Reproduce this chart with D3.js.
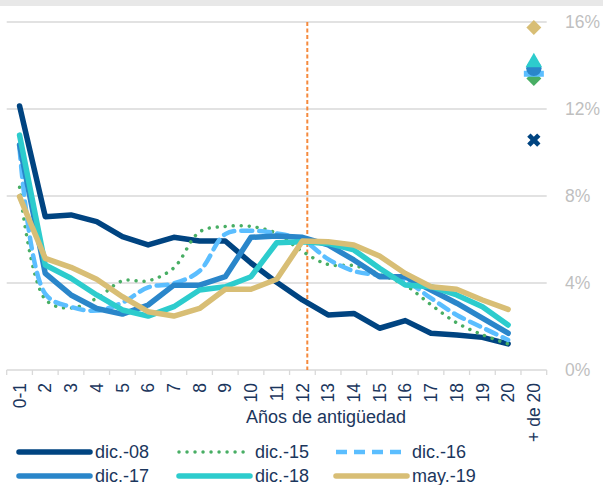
<!DOCTYPE html>
<html>
<head>
<meta charset="utf-8">
<script src="https://cdn.jsdelivr.net/npm/d3@7"></script>
<style>
  body { margin: 0; background: #fff; }
  svg text { font-family: "Liberation Sans", Arial, sans-serif; }
</style>
</head>
<body>
<div id="chart"></div>
<script>
// categories on the x axis (years of seniority)
var categories = ["0-1", "2", "3", "4", "5", "6", "7", "8", "9", "10", "11", "12",
  "13", "14", "15", "16", "17", "18", "19", "20", "+ de 20"];

// % values, categories 0-1 .. 20
var dic08 = [12.14, 7.05, 7.13, 6.82, 6.13, 5.75, 6.10, 5.93, 5.93, 4.92, 4.03, 3.22, 2.53, 2.60, 1.92, 2.27, 1.69, 1.61, 1.50, 1.20];
var dic15 = [8.40, 3.25, 2.85, 3.30, 4.10, 4.10, 4.70, 6.35, 6.60, 6.60, 6.28, 5.45, 4.85, 4.80, 4.40, 3.90, 3.00, 2.17, 1.62, 1.20];
var dic16 = [10.20, 3.50, 2.90, 2.73, 3.10, 3.80, 3.98, 4.55, 6.25, 6.40, 6.28, 5.98, 5.10, 4.55, 4.35, 4.10, 3.30, 2.53, 1.95, 1.38];
var dic17 = [10.35, 4.44, 3.45, 2.83, 2.57, 2.99, 3.90, 3.90, 4.29, 6.10, 6.16, 6.10, 5.75, 5.06, 4.29, 4.29, 3.68, 3.07, 2.38, 1.69];
var dic18 = [10.80, 4.83, 4.22, 3.45, 2.76, 2.48, 2.91, 3.68, 3.83, 4.29, 5.85, 5.90, 5.82, 5.52, 4.68, 3.91, 3.83, 3.45, 2.91, 2.07];
var may19 = [7.97, 5.13, 4.72, 4.17, 3.37, 2.68, 2.48, 2.83, 3.71, 3.71, 4.17, 5.93, 5.90, 5.75, 5.24, 4.44, 3.83, 3.71, 3.22, 2.79];

// "+ de 20" values, one per series (same order as names)
var seriesNames = ["dic.-08", "dic.-15", "dic.-16", "dic.-17", "dic.-18", "may.-19"];
var lastValues = [10.57, 13.40, 13.62, 13.87, 14.14, 15.75];

var yTicks = [0, 4, 8, 12, 16];
var refLinePos = 11.69; // dashed orange line, in category units

var svg = d3.select("#chart")
  .append("svg")
    .attr("width", 603)
    .attr("height", 485);

// grey band on top
svg.append("rect")
  .attr("x", 0).attr("y", 0)
  .attr("width", 603).attr("height", 6)
  .attr("fill", "#e8e8e8");

var x = d3.scaleBand()
  .domain(categories)
  .range([6.7, 546.7]);
var bw = x.bandwidth();
var xLin = d3.scaleLinear()
  .domain([0, categories.length])
  .range(x.range());

var y = d3.scaleLinear()
  .domain([0, 16])
  .range([370, 22]);

// gridlines
svg.append("g").selectAll("line")
  .data(yTicks)
  .enter().append("line")
    .attr("x1", x.range()[0])
    .attr("x2", x.range()[1])
    .attr("y1", function(d) { return y(d); })
    .attr("y2", function(d) { return y(d); })
    .attr("stroke", "#d9d9d9")
    .attr("stroke-width", 1.3);

// x tick marks at category borders
svg.append("g").selectAll("line")
  .data(d3.range(categories.length + 1))
  .enter().append("line")
    .attr("x1", function(d) { return xLin(d); })
    .attr("x2", function(d) { return xLin(d); })
    .attr("y1", y(0))
    .attr("y2", y(0) + 5)
    .attr("stroke", "#d9d9d9")
    .attr("stroke-width", 1.3);

// x labels
var xAx = svg.append("g")
  .attr("transform", "translate(0," + (y(0) + 13) + ")")
  .call(d3.axisBottom(x).tickSize(0));
xAx.select(".domain").remove();
xAx.selectAll("text")
  .attr("x", 0)
  .attr("y", 0)
  .attr("dy", "0.35em")
  .attr("transform", "rotate(-90)")
  .style("text-anchor", "end")
  .style("font-size", "17.5px")
  .style("font-family", "'Liberation Sans', Arial, sans-serif")
  .attr("fill", "#1b365d");

// y labels on the right
var yAx = svg.append("g")
  .attr("transform", "translate(565,0)")
  .call(d3.axisRight(y).tickValues(yTicks).tickSize(0).tickPadding(0)
    .tickFormat(function(d) { return d + "%"; }));
yAx.select(".domain").remove();
yAx.selectAll("text")
  .style("font-size", "17.5px")
  .style("font-family", "'Liberation Sans', Arial, sans-serif")
  .attr("fill", "#bfbfbf");

// axis title
svg.append("text")
  .attr("x", 326)
  .attr("y", 423)
  .attr("text-anchor", "middle")
  .style("font-size", "18px")
  .attr("fill", "#1b365d")
  .text("Años de antigüedad");

// dashed reference line
svg.append("line")
  .attr("x1", xLin(refLinePos))
  .attr("x2", xLin(refLinePos))
  .attr("y1", y(16))
  .attr("y2", y(0))
  .attr("stroke", "#f58a3d")
  .attr("stroke-width", 2)
  .attr("stroke-dasharray", "4 2.5");

var series = [
  {name: seriesNames[0], values: dic08, color: "#004481", width: 5.5, dash: null, smooth: false},
  {name: seriesNames[1], values: dic15, color: "#48ae64", width: 3.5, dash: "0.01 8", smooth: true},
  {name: seriesNames[2], values: dic16, color: "#5bbeff", width: 4.5, dash: "11 7", smooth: true},
  {name: seriesNames[3], values: dic17, color: "#2a86ca", width: 5.5, dash: null, smooth: false},
  {name: seriesNames[4], values: dic18, color: "#2dcccd", width: 5.5, dash: null, smooth: false},
  {name: seriesNames[5], values: may19, color: "#d8be75", width: 5.5, dash: null, smooth: false}
];

function cx(i) { return x(categories[i]) + bw / 2; }

series.forEach(function(s) {
  var line = d3.line()
    .x(function(d, i) { return cx(i); })
    .y(function(d) { return y(d); })
    .curve(s.smooth ? d3.curveCatmullRom.alpha(0.5) : d3.curveLinear);
  svg.append("path")
    .datum(s.values)
    .attr("fill", "none")
    .attr("stroke", s.color)
    .attr("stroke-width", s.width)
    .attr("stroke-linecap", "round")
    .attr("stroke-linejoin", "round")
    .attr("stroke-dasharray", s.dash)
    .attr("d", line);
});

// "+ de 20" markers
var mx = cx(categories.length - 1);
var mk = svg.append("g");
// dic.-15 diamond
mk.append("path")
  .attr("transform", "translate(" + mx + "," + y(lastValues[1]) + ") rotate(45)")
  .attr("d", d3.symbol().type(d3.symbolSquare).size(112)())
  .attr("fill", series[1].color);
// dic.-16 dash
mk.append("rect")
  .attr("x", mx - 10).attr("y", y(lastValues[2]) - 3)
  .attr("width", 20).attr("height", 6)
  .attr("fill", series[2].color);
// dic.-17 circle
mk.append("path")
  .attr("transform", "translate(" + mx + "," + y(lastValues[3]) + ")")
  .attr("d", d3.symbol().type(d3.symbolCircle).size(185)())
  .attr("fill", series[3].color);
// dic.-18 triangle
mk.append("path")
  .attr("transform", "translate(" + mx + "," + y(lastValues[4]) + ")")
  .attr("d", d3.symbol().type(d3.symbolTriangle).size(120)())
  .attr("fill", series[4].color);
// may.-19 diamond
mk.append("path")
  .attr("transform", "translate(" + mx + "," + y(lastValues[5]) + ") rotate(45)")
  .attr("d", d3.symbol().type(d3.symbolSquare).size(112)())
  .attr("fill", series[5].color);
// dic.-08 cross
mk.append("path")
  .attr("transform", "translate(" + mx + "," + y(lastValues[0]) + ") rotate(45)")
  .attr("d", d3.symbol().type(d3.symbolCross).size(110)())
  .attr("fill", series[0].color);

// legend
var legX = [19, 179, 336];
var legY = [452, 476];
var leg = svg.append("g").selectAll("g")
  .data(series)
  .enter().append("g")
    .attr("transform", function(d, i) {
      return "translate(" + legX[i % 3] + "," + legY[Math.floor(i / 3)] + ")";
    });
leg.append("line")
  .attr("x1", 0).attr("x2", 71)
  .attr("y1", 0).attr("y2", 0)
  .attr("stroke", function(d) { return d.color; })
  .attr("stroke-width", function(d) { return d.width; })
  .attr("stroke-linecap", function(d) { return d.dash && d.dash.indexOf("0.01") !== 0 ? "butt" : "round"; })
  .attr("stroke-dasharray", function(d) { return d.dash; });
leg.append("text")
  .attr("x", 76)
  .attr("y", 0)
  .attr("dy", "0.35em")
  .style("font-size", "18px")
  .attr("fill", "#1b365d")
  .text(function(d) { return d.name; });
</script>
</body>
</html>
